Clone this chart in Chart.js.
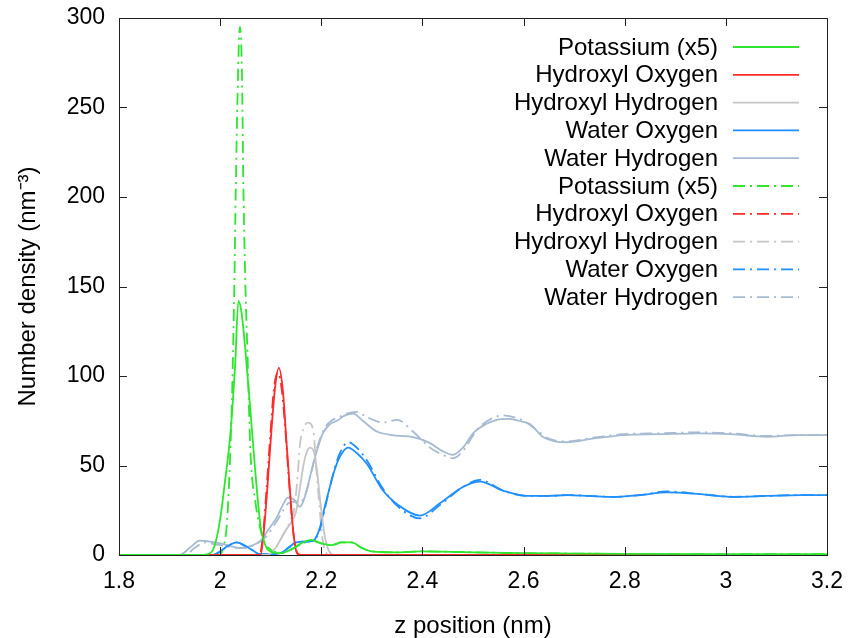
<!DOCTYPE html>
<html>
<head>
<meta charset="utf-8">
<script src="https://cdn.jsdelivr.net/npm/chart.js@4.4.1/dist/chart.umd.min.js"></script>
<style>
  html, body { margin: 0; padding: 0; background: #fff; }
  #wrap { width: 852px; height: 638px; }
</style>
</head>
<body>
<div id="wrap"><canvas id="densityChart" width="852" height="638"></canvas></div>
<script>
// z positions (nm) and number densities (nm^-3)
const kSolidZ = [1.8, 1.96, 1.98, 1.99, 2.0, 2.01, 2.02, 2.03, 2.036, 2.042, 2.05, 2.06, 2.07, 2.08, 2.09, 2.1, 2.12, 2.14, 2.16, 2.18, 2.2, 2.22, 2.24, 2.26, 2.28, 2.3, 2.35, 2.4, 2.5, 2.6, 2.7, 2.8, 3.0, 3.2];
const kSolidN = [0, 0, 1, 6, 20, 42, 67, 108, 142, 136, 114, 80, 45, 16, 5, 2, 1, 3, 6.5, 8.5, 6.5, 5.5, 7, 7, 4, 2, 1.5, 2, 1.5, 1, 0.8, 0.6, 0.5, 0.5];

const ohSolidZ = [1.8, 2.08, 2.086, 2.093, 2.1, 2.108, 2.116, 2.124, 2.131, 2.138, 2.145, 2.152, 2.16, 3.2];
const ohSolidN = [0, 0, 12, 36, 64, 92, 104.5, 92, 64, 36, 12, 1, 0, 0];

const hhSolidZ = [1.8, 2.09, 2.1, 2.11, 2.12, 2.13, 2.14, 2.15, 2.158, 2.166, 2.172, 2.178, 2.186, 2.192, 2.198, 2.206, 2.214, 2.224, 3.2];
const hhSolidN = [0, 0, 1, 4, 9, 14, 18, 24, 38, 52, 58, 60, 57, 46, 30, 12, 3, 0, 0];

const woSolidZ = [1.8, 1.985, 2.0, 2.015, 2.033, 2.05, 2.065, 2.078, 2.1, 2.12, 2.135, 2.15, 2.17, 2.184, 2.197, 2.207, 2.217, 2.227, 2.237, 2.253, 2.27, 2.29, 2.322, 2.352, 2.395, 2.435, 2.48, 2.514, 2.559, 2.607, 2.65, 2.686, 2.73, 2.777, 2.83, 2.884, 2.95, 3.014, 3.08, 3.147, 3.2];
const woSolidN = [0, 0, 2, 5, 7, 5, 2.5, 0.5, 0.5, 1, 4, 7, 7.5, 8, 15, 27, 38, 48, 55, 60, 57, 51, 36, 28, 22, 29, 38, 41, 36, 33, 33, 33.5, 33, 32.5, 33.5, 35, 34, 32.5, 33, 33.5, 33.5];

const whSolidZ = [1.8, 1.92, 1.94, 1.96, 1.98, 2.0, 2.02, 2.04, 2.06, 2.08, 2.095, 2.112, 2.124, 2.134, 2.146, 2.158, 2.168, 2.178, 2.19, 2.203, 2.217, 2.231, 2.247, 2.263, 2.282, 2.31, 2.34, 2.38, 2.415, 2.44, 2.46, 2.48, 2.5, 2.525, 2.547, 2.57, 2.59, 2.613, 2.638, 2.662, 2.686, 2.737, 2.797, 2.87, 2.949, 3.01, 3.081, 3.14, 3.2];
const whSolidN = [0, 0, 4, 8, 7.5, 6.5, 5, 4, 5, 8, 14, 21, 28, 32, 31, 27, 33, 44, 57, 68, 73, 75, 78, 79, 75, 69, 67, 66, 62.5, 58, 56, 60, 68, 73, 75.5, 76, 75, 73, 66, 63.5, 63, 65, 67, 67.5, 68, 67.5, 66, 67, 67];

const kDashZ = [1.8, 1.995, 2.008, 2.014, 2.02, 2.024, 2.028, 2.031, 2.034, 2.039, 2.043, 2.046, 2.05, 2.054, 2.06, 2.07, 2.08, 2.09, 2.1, 2.12, 2.14, 2.16, 2.18, 2.2, 2.22, 2.24, 2.26, 2.28, 2.3, 2.35, 2.4, 2.5, 2.6, 2.7, 2.8, 3.0, 3.2];
const kDashN = [0, 0, 6, 20, 57, 94, 150, 205, 252, 295, 271, 205, 150, 113, 57, 29, 14, 6, 3, 1, 3, 6, 8, 6.5, 5.5, 7, 7, 4, 2, 1.5, 2, 1.5, 1, 0.8, 0.6, 0.5, 0.5];

const ohDashZ = [1.8, 2.078, 2.085, 2.092, 2.099, 2.106, 2.114, 2.122, 2.13, 2.137, 2.145, 2.153, 2.16, 3.2];
const ohDashN = [0, 0, 12, 38, 66, 92, 102, 92, 66, 38, 12, 1, 0, 0];

const hhDashZ = [1.8, 2.09, 2.1, 2.11, 2.12, 2.13, 2.14, 2.146, 2.152, 2.158, 2.164, 2.173, 2.184, 2.19, 2.197, 2.203, 2.21, 2.22, 3.2];
const hhDashN = [0, 0, 1, 4, 9, 14, 20, 25, 40, 62, 70, 74, 70, 49, 25, 8, 1, 0, 0];

const woDashZ = woSolidZ;
const woDashN = [0, 0, 2, 5, 7, 5, 2.5, 0.5, 0.5, 1, 4, 7, 7.5, 8, 14, 26, 38, 49, 57, 63, 60, 53, 37, 27, 20.5, 28, 38, 42, 36, 33, 33, 33.5, 33, 32.5, 33.5, 35.5, 34, 32.5, 33, 33.5, 33.5];

const whDashZ = [1.8, 1.93, 1.95, 1.97, 1.99, 2.01, 2.03, 2.05, 2.07, 2.09, 2.11, 2.125, 2.135, 2.148, 2.16, 2.17, 2.18, 2.192, 2.205, 2.22, 2.235, 2.25, 2.27, 2.29, 2.322, 2.35, 2.381, 2.415, 2.44, 2.46, 2.48, 2.508, 2.535, 2.56, 2.58, 2.6, 2.625, 2.65, 2.686, 2.737, 2.797, 2.87, 2.949, 3.01, 3.081, 3.14, 3.2];
const whDashN = [0, 0, 4, 7, 6, 5, 4, 4, 6, 10, 18, 25, 29, 30, 30, 35, 46, 60, 70, 75, 77, 79, 80, 77, 74, 75.5, 69, 60, 56, 54, 58, 70, 76, 78, 77, 75, 70, 65, 63.5, 65.5, 67.5, 68, 68.5, 68, 66.5, 67, 67];

const labels = ['Potassium (x5)', 'Hydroxyl Oxygen', 'Hydroxyl Hydrogen', 'Water Oxygen', 'Water Hydrogen'];
const colors = ['#2ee62e', '#ff2a2a', '#c6c6c6', '#1f8fff', '#a6bad2'];
const dashDot = [12, 5, 2, 5];

function pts(zs, ns) {
  return zs.map((z, i) => ({ x: z, y: ns[i] }));
}

const solidSets = [[kSolidZ, kSolidN], [ohSolidZ, ohSolidN], [hhSolidZ, hhSolidN], [woSolidZ, woSolidN], [whSolidZ, whSolidN]];
const dashSets = [[kDashZ, kDashN], [ohDashZ, ohDashN], [hhDashZ, hhDashN], [woDashZ, woDashN], [whDashZ, whDashN]];

const datasets = [];
solidSets.forEach((s, i) => {
  datasets.push({ label: labels[i], data: pts(s[0], s[1]), borderColor: colors[i], borderDash: [] });
});
dashSets.forEach((s, i) => {
  datasets.push({ label: labels[i], data: pts(s[0], s[1]), borderColor: colors[i], borderDash: dashDot });
});
datasets.forEach(d => {
  d.borderWidth = 1.8;
  d.pointRadius = 0;
  d.fill = false;
  d.cubicInterpolationMode = 'monotone';
});

const FONT = 'Liberation Sans, Arial, Helvetica, sans-serif';

// gnuplot-style frame, inward ticks on all sides, key at top right
const framePlugin = {
  id: 'frame',
  afterDraw(chart) {
    const ctx = chart.ctx;
    const a = chart.chartArea;
    const xs = chart.scales.x, ys = chart.scales.y;
    ctx.save();
    ctx.strokeStyle = '#222';
    ctx.lineWidth = 1;
    ctx.setLineDash([]);
    ctx.strokeRect(a.left + 0.5, a.top + 0.5, a.right - a.left, a.bottom - a.top);
    const len = 8;
    ctx.beginPath();
    xs.ticks.forEach(t => {
      const px = Math.round(xs.getPixelForValue(t.value)) + 0.5;
      ctx.moveTo(px, a.bottom); ctx.lineTo(px, a.bottom - len);
      ctx.moveTo(px, a.top); ctx.lineTo(px, a.top + len);
    });
    ys.ticks.forEach(t => {
      const py = Math.round(ys.getPixelForValue(t.value)) + 0.5;
      ctx.moveTo(a.left, py); ctx.lineTo(a.left + len, py);
      ctx.moveTo(a.right, py); ctx.lineTo(a.right - len, py);
    });
    ctx.stroke();

    // key
    ctx.font = '24px ' + FONT;
    ctx.textAlign = 'right';
    ctx.textBaseline = 'middle';
    chart.data.datasets.forEach((d, i) => {
      const y = 47 + i * 27.8;
      ctx.fillStyle = '#000';
      ctx.fillText(d.label, 718, y + 1);
      ctx.strokeStyle = d.borderColor;
      ctx.lineWidth = 1.8;
      ctx.setLineDash(d.borderDash);
      ctx.beginPath();
      ctx.moveTo(733, y);
      ctx.lineTo(799, y);
      ctx.stroke();
    });
    ctx.restore();
  }
};

new Chart(document.getElementById('densityChart').getContext('2d'), {
  type: 'line',
  data: { datasets: datasets },
  options: {
    responsive: false,
    animation: false,
    layout: { padding: { top: 18, right: 25, left: 0, bottom: 0 } },
    plugins: { legend: { display: false }, tooltip: { enabled: false } },
    scales: {
      x: {
        type: 'linear',
        min: 1.8,
        max: 3.2,
        grid: { display: false, drawTicks: false },
        border: { display: false },
        ticks: {
          stepSize: 0.2, padding: 13, color: '#000', font: { family: FONT, size: 23 },
          callback: v => String(Number(v.toFixed(1)))
        },
        title: { display: true, text: 'z position (nm)', color: '#000', font: { family: FONT, size: 24, lineHeight: 1 }, padding: { top: 0, bottom: 0 } },
        afterFit(scale) { scale.height = 83; scale.paddingLeft = 0; scale.paddingRight = 0; }
      },
      y: {
        min: 0,
        max: 300,
        grid: { display: false, drawTicks: false },
        border: { display: false },
        ticks: { stepSize: 50, padding: 14, color: '#000', font: { family: FONT, size: 23 } },
        title: { display: true, text: 'Number density (nm⁻³)', color: '#000', font: { family: FONT, size: 24, lineHeight: 1 }, padding: { top: 16, bottom: 0 } },
        afterFit(scale) { scale.width = 119; scale.paddingTop = 0; scale.paddingBottom = 0; }
      }
    }
  },
  plugins: [framePlugin]
});
</script>
</body>
</html>
